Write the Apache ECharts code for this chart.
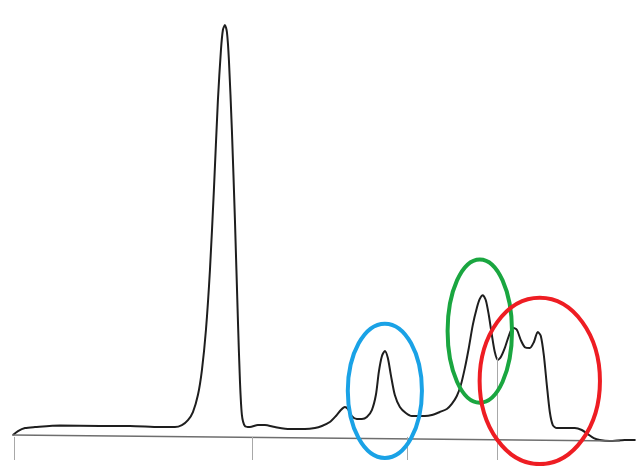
<!DOCTYPE html>
<html>
<head>
<meta charset="utf-8">
<script src="https://cdn.jsdelivr.net/npm/echarts@6/dist/echarts.min.js"></script>
<style>html,body{margin:0;padding:0;background:#fff;}#c{width:638px;height:466px;}</style>
</head>
<body>
<div id="c"></div>
<script>
// retention position (x) and detector signal (y)
const xs = [0.16,0.99,2.14,3.78,7.89,14.47,19.41,24.34,26.81,27.96,28.95,29.77,30.59,31.25,31.91,32.57,33.22,33.88,34.38,34.70,35.03,35.36,35.69,36.18,36.68,37.17,37.50,37.83,38.32,39.14,40.46,41.61,43.26,45.72,48.19,49.84,50.99,52.30,53.29,54.11,54.77,55.26,55.92,56.74,57.57,58.39,59.21,59.87,60.36,60.86,61.35,61.84,62.34,62.99,63.82,64.80,65.79,66.78,67.93,69.08,70.39,71.55,72.37,73.19,73.85,74.51,75.16,75.82,76.48,76.97,77.47,77.96,78.45,78.95,79.44,79.93,80.43,81.09,81.74,82.40,83.06,83.72,84.38,85.20,85.86,86.51,87.01,87.50,88.00,88.49,88.98,89.64,90.95,92.60,93.75,94.74,95.72,96.71,98.36,100.82,102.6];
const ys = [0.46,1.43,2.16,2.40,2.77,2.65,2.65,2.40,2.40,2.89,4.10,6.05,10.17,16.24,25.95,40.52,59.94,81.79,93.93,98.79,100,98.3,91.5,74.5,52.7,28.4,13.8,5.3,2.65,2.40,2.89,2.89,2.40,1.92,1.92,2.16,2.65,3.62,5.07,6.53,7.26,6.78,5.07,4.35,4.35,4.83,6.53,10.17,15.8,19.6,20.85,19.15,15.0,10.17,7.26,5.8,5.07,5.07,5.07,5.32,6.05,6.78,8.0,9.93,12.6,16.7,21.6,27.2,31.3,33.5,34.4,33.2,29.6,24.8,20.6,18.7,19.4,21.6,24.5,26.5,26.0,23.5,21.8,21.6,23.0,25.5,24.5,19.9,12.6,6.05,2.89,2.16,2.16,2.16,1.68,0.70,-0.27,-0.75,-1.0,-0.75,-0.75];
// baseline (axis) end points
const baseX = [0, 100];
const baseY = [0.46, -1.0];
// tick positions along the axis
const tickXs = [0.33, 39.6, 65.1, 79.8];
const tickTops = [0, 0, 0, 19.4];
// highlighted regions: centre x, centre y, half-width, half-height (data units)
const ringCX = [61.35, 76.97, 86.84];
const ringCY = [11.2, 25.7, 13.6];
const ringRX = [6.1, 5.3, 9.9];
const ringRY = [16.3, 17.4, 20.2];
const ringColors = ['#1aa2e6', '#1aa640', '#ee1d23'];

const lineData = xs.map((x, i) => [x, ys[i]]);
const yMin = -5.6;

const tickLines = tickXs.map((x, i) => [
  { coord: [x, tickTops[i]] },
  { coord: [x, yMin] }
]);

const chart = echarts.init(document.getElementById('c'), null, { renderer: 'canvas' });
chart.setOption({
  animation: false,
  backgroundColor: '#fff',
  grid: { left: 12, right: 0, top: 25, bottom: 6 },
  xAxis: { type: 'value', min: 0, max: 103, show: false },
  yAxis: { type: 'value', min: yMin, max: 100, show: false },
  series: [
    {
      type: 'line',
      data: lineData,
      symbol: 'none',
      smooth: 0.25,
      lineStyle: { color: '#1e1e1e', width: 2 },
      z: 3,
      markLine: {
        silent: true,
        symbol: 'none',
        label: { show: false },
        animation: false,
        data: [
          [{ coord: [baseX[0], baseY[0]], lineStyle: { color: '#6e6e6e', width: 1.5, type: 'solid' } },
           { coord: [baseX[1], baseY[1]] }]
        ].concat(tickLines.map(l => [
          Object.assign({ lineStyle: { color: '#a8a8a8', width: 1, type: 'solid' } }, l[0]), l[1]
        ]))
      }
    },
    {
      type: 'custom',
      z: 5,
      clip: false,
      data: ringCX.map((x, i) => [x, ringCY[i], ringRX[i], ringRY[i], i]),
      renderItem: function (params, api) {
        const c = api.coord([api.value(0), api.value(1)]);
        const s = api.size([api.value(2), api.value(3)]);
        const idx = api.value(4);
        return {
          type: 'ellipse',
          z2: idx,
          shape: { cx: c[0], cy: c[1], rx: s[0], ry: s[1] },
          style: { fill: 'none', stroke: ringColors[idx], lineWidth: 4 }
        };
      }
    }
  ]
});
</script>
</body>
</html>
